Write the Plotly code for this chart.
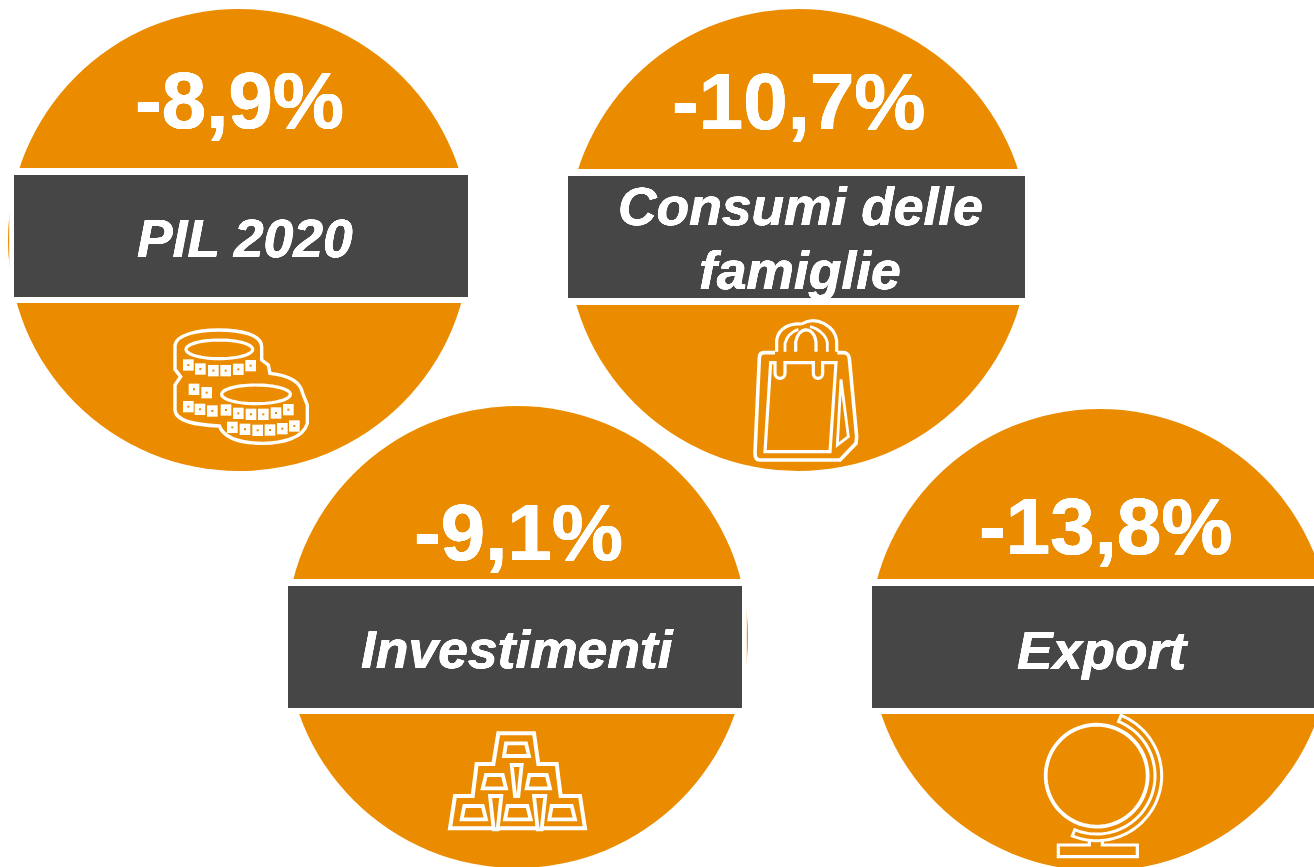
import numpy as np
import plotly.graph_objects as go

# ---- data ----
values = ["-8,9%", "-10,7%", "-9,1%", "-13,8%"]
label_lines = [["PIL 2020"], ["Consumi delle", "famiglie"], ["Investimenti"], ["Export"]]

# ---- layout of the four badges (pixels) ----
centers_x = [239, 798, 517, 1100]
centers_y = [240, 240, 637, 640]
value_cx = [239, 798, 518, 1105]
value_cy = [100, 101, 532, 526]
label_cx = [245, 800, 517.5, 1102.5]
label_cy = [[238], [206, 270], [649], [650]]
band_top = [168, 169, 579, 579]
band_bot = [303, 305, 714, 714]
band_x0 = [9.2, 560, 280, 860]
band_x1 = [476, 1035, 746.8, 1314]
dark_x0 = [14, 568, 288, 872]
dark_x1 = [468, 1025, 742, 1314]
dark_y0 = [175, 176, 586, 586]
dark_y1 = [297, 298, 708, 708]
RADIUS = 231
ORANGE = "#EB8C00"
DARK = "#464646"
WHITE = "#FFFFFF"
HALO = "0.35px 0 0 #fff, -0.35px 0 0 #fff, 0 0.35px 0 #fff, 0 -0.35px 0 #fff"

shapes = []
def add(path, width=3.0, fill="rgba(0,0,0,0)", color=WHITE):
    shapes.append(dict(type="path", path=path, xref="x", yref="y", fillcolor=fill,
                       line=dict(color=color, width=width), layer="above"))

def tr(ox, oy):
    return lambda x, y: (ox + x / 3, oy + y / 3)

def poly(points, t, closed=True):
    pts = [t(*p) for p in points]
    return "M" + " L".join(f"{x:.2f},{y:.2f}" for x, y in pts) + (" Z" if closed else "")

def curve(cmds, t):
    out = []
    for c in cmds:
        op, coords = c[0], c[1:]
        xy = [t(*p) for p in coords]
        out.append(op + " ".join(f"{x:.2f},{y:.2f}" for x, y in xy))
    return " ".join(out)

def ellipse(cx, cy, rx, ry, t):
    a = np.linspace(0, 2 * np.pi, 60)
    return poly(list(zip(cx + rx * np.cos(a), cy + ry * np.sin(a))), t)

# badge backgrounds
for cx, cy, bt, bb, bx0, bx1, x0, x1, y0, y1 in zip(centers_x, centers_y, band_top, band_bot, band_x0, band_x1,
                                                    dark_x0, dark_x1, dark_y0, dark_y1):
    shapes.append(dict(type="circle", xref="x", yref="y", x0=cx - RADIUS, x1=cx + RADIUS,
                       y0=cy - RADIUS, y1=cy + RADIUS, fillcolor=ORANGE, line_width=0, layer="above"))
    shapes.append(dict(type="rect", xref="x", yref="y", x0=bx0, x1=bx1,
                       y0=bt, y1=bb, fillcolor=WHITE, line_width=0, layer="above"))
    shapes.append(dict(type="rect", xref="x", yref="y", x0=x0, x1=x1, y0=y0, y1=y1,
                       fillcolor=DARK, line_width=0, layer="above"))

# coins icon
t = tr(150, 310)
add(curve([("M", (75, 105)), ("C", (80, 75), (140, 60), (205, 60)), ("C", (275, 60), (335, 75), (335, 110)),
           ("L", (335, 150)), ("L", (355, 165)), ("L", (360, 190)), ("C", (410, 195), (450, 210), (458, 250)),
           ("L", (472, 285)), ("L", (472, 340)), ("C", (460, 385), (395, 400), (340, 400)),
           ("C", (280, 400), (225, 390), (208, 348)), ("C", (140, 345), (78, 335), (75, 300)),
           ("L", (75, 225)), ("L", (92, 200)), ("L", (75, 178)), ("Z",)], t), 3.4)
add(ellipse(208, 118, 100, 28, t), 3.2)
add(ellipse(318, 253, 103, 28, t), 3.2)
tiles = [(115, 165), (151, 177), (190, 182), (227, 182), (265, 178), (302, 167),
         (132, 238), (170, 248), (115, 290), (150, 298), (187, 303),
         (228, 300), (265, 310), (303, 313), (340, 313), (378, 309), (415, 299),
         (247, 352), (285, 358), (323, 361), (360, 360), (397, 356), (433, 348)]
for x, y in tiles:
    add(poly([(x - 16, y - 17), (x + 16, y - 17), (x + 16, y + 17), (x - 16, y + 17)], t), 0, WHITE)
    add(poly([(x - 3, y - 3), (x + 3, y - 3), (x + 3, y + 3), (x - 3, y + 3)], t), 0, ORANGE)

# bag icon
t = tr(730, 310)
add(curve([("M", (135, 128)), ("L", (102, 128)), ("C", (92, 128), (88, 135), (88, 145)), ("L", (75, 430)),
           ("C", (75, 445), (80, 450), (90, 450)), ("L", (330, 450)), ("L", (378, 400)), ("L", (380, 380)),
           ("L", (358, 145)), ("C", (357, 135), (350, 128), (340, 128)), ("L", (322, 128))], t), 3.6)
add(curve([("M", (135, 158)), ("L", (122, 158)), ("L", (105, 425)), ("L", (300, 425)), ("L", (318, 158)),
           ("L", (278, 158)), ("L", (278, 190)), ("C", (278, 210), (250, 210), (250, 190)), ("L", (250, 158)),
           ("L", (165, 158)), ("L", (165, 190)), ("C", (165, 210), (135, 210), (135, 190)), ("Z",)], t), 3.2)
add(poly([(333, 208), (355, 380), (322, 405)], t), 2.8)
add(curve([("M", (140, 125)), ("L", (140, 90)), ("C", (145, 55), (180, 38), (215, 42))], t), 3.2)
add(curve([("M", (320, 125)), ("L", (320, 92)), ("C", (315, 50), (260, 15), (215, 42))], t), 3.2)
add(curve([("M", (165, 125)), ("L", (165, 100)), ("C", (170, 80), (185, 65), (205, 58))], t), 2.8)
add(curve([("M", (197, 125)), ("L", (197, 95)), ("C", (205, 50), (250, 45), (258, 95)), ("L", (258, 125))], t), 3.2)
add(curve([("M", (292, 125)), ("L", (292, 98)), ("C", (288, 75), (265, 55), (240, 50))], t), 2.8)

# gold bars icon
t = tr(430, 720)
add(poly([(205, 40), (312, 40), (325, 132), (380, 132), (392, 228), (450, 228), (465, 325), (60, 325),
          (75, 228), (128, 228), (140, 132), (190, 132)], t), 4)
for bar in [[(228, 70), (288, 70), (297, 108), (222, 108)],
            [(168, 165), (218, 165), (228, 205), (158, 205)],
            [(298, 165), (350, 165), (360, 205), (290, 205)],
            [(103, 258), (158, 258), (168, 298), (95, 298)],
            [(233, 258), (292, 258), (302, 298), (225, 298)],
            [(365, 258), (425, 258), (435, 298), (358, 298)]]:
    add(poly(bar, t), 3.8)
for w in [[(245, 135), (275, 135), (265, 228), (255, 228)],
          [(180, 228), (214, 228), (203, 328), (191, 328)],
          [(312, 228), (346, 228), (335, 328), (323, 328)]]:
    add(poly(w, t), 3.8, ORANGE)

# globe icon
t = tr(1030, 705)
a = np.radians(np.linspace(-68, 112, 80))
gx, gy = 200, 212
arm = list(zip(gx + 195 * np.cos(a), gy + 195 * np.sin(a))) + \
      list(zip(gx + 175 * np.cos(a[::-1]), gy + 175 * np.sin(a[::-1])))
add(poly(arm, t), 3)
add(ellipse(gx, gy, 153, 153, t), 3.8)
add(poly([(178, 405), (178, 420), (85, 420), (85, 455), (322, 455), (322, 420), (217, 420), (217, 403)], t, False), 3.2)

ann = []
for v, x, y in zip(values, value_cx, value_cy):
    ann.append(dict(text=f"<b>{v}</b>", x=x, y=y, xref="x", yref="y", showarrow=False,
                    xanchor="center", yanchor="middle",
                    font=dict(family="Liberation Sans", size=80, color=WHITE, shadow=HALO)))
for lines, x, ys in zip(label_lines, label_cx, label_cy):
    for line, y in zip(lines, ys):
        ann.append(dict(text=f"<b><i>{line}</i></b>", x=x, y=y, xref="x", yref="y", showarrow=False,
                        xanchor="center", yanchor="middle",
                        font=dict(family="Liberation Sans", size=53.4, color=WHITE, shadow=HALO)))

fig = go.Figure()
fig.update_layout(width=1314, height=867, margin=dict(l=0, r=0, t=0, b=0), autosize=False,
                  paper_bgcolor=WHITE, plot_bgcolor=WHITE, showlegend=False,
                  xaxis=dict(range=[0, 1314], visible=False, fixedrange=True),
                  yaxis=dict(range=[867, 0], visible=False, fixedrange=True),
                  shapes=shapes, annotations=ann)
fig.write_html("out.html", config={"displayModeBar": False},
               post_script="document.body.style.margin='0';document.body.style.overflow='hidden';")
